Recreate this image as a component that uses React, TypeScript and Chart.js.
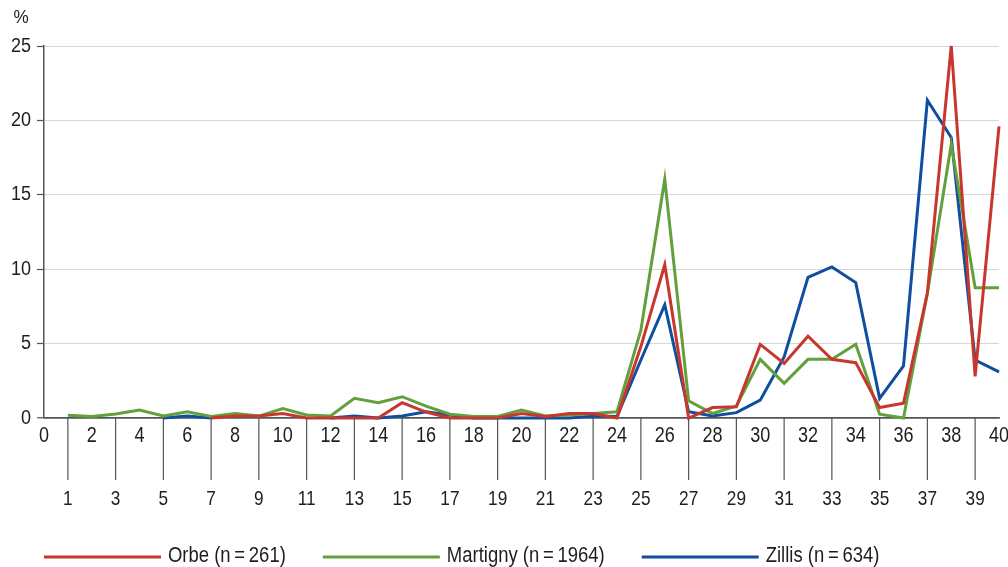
import React, { useEffect, useRef } from "react";
import { Chart, registerables } from "chart.js";

Chart.register(...registerables);

const categories = [
  "0", "1", "2", "3", "4", "5", "6", "7", "8", "9", "10",
  "11", "12", "13", "14", "15", "16", "17", "18", "19", "20",
  "21", "22", "23", "24", "25", "26", "27", "28", "29", "30",
  "31", "32", "33", "34", "35", "36", "37", "38", "39", "40",
];

const orbe = [
  null, null, null, null, null, null, null, 0, 0.13, 0.13, 0.3,
  0, 0, 0, 0, 1.03, 0.4, 0, 0, 0, 0.3,
  0.1, 0.3, 0.3, 0, 4.8, 10.3, 0, 0.7, 0.75, 4.95,
  3.67, 5.5, 3.95, 3.72, 0.7, 1.0, 8.4, 25.0, 2.8, 19.6,
];

const martigny = [
  null, 0.18, 0.1, 0.27, 0.54, 0.13, 0.42, 0.1, 0.3, 0.13, 0.63,
  0.2, 0.13, 1.32, 1.03, 1.43, 0.8, 0.25, 0.1, 0.1, 0.54,
  0.13, 0.2, 0.3, 0.42, 5.9, 16.05, 1.15, 0.3, 0.8, 3.94,
  2.33, 3.94, 3.94, 4.95, 0.25, 0, 8.38, 18.4, 8.75, 8.75,
];

const zillis = [
  null, null, null, null, null, 0, 0.13, 0, null, null, null,
  null, 0, 0.13, 0, 0.13, 0.42, 0.2, 0, 0, 0,
  0, 0, 0.13, 0.1, 3.9, 7.6, 0.42, 0.13, 0.36, 1.2,
  4.1, 9.45, 10.15, 9.1, 1.32, 3.5, 21.35, 18.85, 3.9, 3.1,
];

const seriesNames = ["Orbe (n\u2009=\u2009261)", "Martigny (n\u2009=\u20091964)", "Zillis (n\u2009=\u2009634)"];
const seriesColors = ["#c8372d", "#62a03e", "#104f9e"];
const yTicks = [0, 5, 10, 15, 20, 25];
const yUnit = "%";

const FONT = '"Liberation Sans", Arial, sans-serif';
const AXIS = "#555555";
const TEXT = "#1e1e1e";

function drawText(
  ctx: CanvasRenderingContext2D,
  text: string,
  x: number,
  y: number,
  size: number,
  align: "left" | "center" | "right",
  sx: number
) {
  ctx.save();
  ctx.font = `${size}px ${FONT}`;
  ctx.fillStyle = TEXT;
  ctx.textAlign = align;
  ctx.textBaseline = "middle";
  ctx.translate(x, y);
  ctx.scale(sx, 1);
  ctx.fillText(text, 0, 0);
  ctx.restore();
}

const overlayPlugin = {
  id: "overlay",
  afterDraw(chart: any) {
    const { ctx, chartArea } = chart;
    const xs = chart.scales.x;
    const ys = chart.scales.y;
    ctx.save();
    drawText(ctx, yUnit, 21, 18, 19, "center", 0.9);

    // y labels
    yTicks.forEach((v) => {
      drawText(ctx, String(v), 31, ys.getPixelForValue(v), 20, "right", 0.9);
    });

    // x labels: even near axis, odd lower with long tick lines
    const bottom = chartArea.bottom;
    categories.forEach((lab, i) => {
      const px = xs.getPixelForValue(i);
      if (i % 2 === 0) {
        drawText(ctx, lab, px, bottom + 18, 22, "center", 0.82);
      } else {
        ctx.strokeStyle = AXIS;
        ctx.lineWidth = 1.2;
        ctx.beginPath();
        ctx.moveTo(px, bottom);
        ctx.lineTo(px, bottom + 62);
        ctx.stroke();
        drawText(ctx, lab, px, bottom + 81, 21, "center", 0.82);
      }
    });

    // legend
    let x = 44;
    const ly = 556;
    const sx = 0.84;
    chart.data.datasets.forEach((ds: any) => {
      ctx.strokeStyle = ds.borderColor;
      ctx.lineWidth = 3;
      ctx.beginPath();
      ctx.moveTo(x, ly + 1);
      ctx.lineTo(x + 117, ly + 1);
      ctx.stroke();
      const tx = x + 124;
      drawText(ctx, ds.label, tx, ly, 22, "left", sx);
      ctx.font = `22px ${FONT}`;
      x = tx + ctx.measureText(ds.label).width * sx + 37;
    });
    ctx.restore();
  },
};

export default function App() {
  const ref = useRef<HTMLCanvasElement | null>(null);
  useEffect(() => {
    if (!ref.current) return;
    const datasets = [orbe, martigny, zillis].map((d, i) => ({
      label: seriesNames[i],
      data: d,
      borderColor: seriesColors[i],
      backgroundColor: seriesColors[i],
      borderWidth: 3,
      pointRadius: 0,
      tension: 0,
      spanGaps: false,
      clip: false as any,
    }));
    const chart = new Chart(ref.current, {
      type: "line",
      data: { labels: categories, datasets },
      options: {
        animation: false,
        responsive: false,
        maintainAspectRatio: false,
        layout: { padding: { top: 46, right: 9, left: 0, bottom: 0 } },
        plugins: { legend: { display: false }, tooltip: { enabled: false } },
        scales: {
          x: {
            type: "category",
            offset: false,
            grid: { display: false },
            border: { display: true, color: AXIS, width: 1.5 },
            ticks: { display: false },
            afterFit(scale: any) {
              scale.height = 149;
            },
          },
          y: {
            min: 0,
            max: 25,
            afterBuildTicks(scale: any) {
              scale.ticks = yTicks.map((v) => ({ value: v }));
            },
            grid: {
              color: (c: any) => (c.tick && c.tick.value === 0 ? AXIS : "#d6d6d6"),
              lineWidth: (c: any) => (c.tick && c.tick.value === 0 ? 1.5 : 1),
              drawTicks: true,
              tickLength: 7,
              tickColor: AXIS,
              tickWidth: 1.2,
            },
            border: { display: true, color: AXIS, width: 1.5 },
            ticks: { display: false },
            afterFit(scale: any) {
              scale.width = 44;
            },
          },
        },
      },
      plugins: [overlayPlugin],
    });
    return () => chart.destroy();
  }, []);
  return (
    <div style={{ position: "fixed", left: 0, top: 0, width: 1008, height: 567, background: "#fff" }}>
      <canvas ref={ref} width={1008} height={567} style={{ width: 1008, height: 567 }} />
    </div>
  );
}
